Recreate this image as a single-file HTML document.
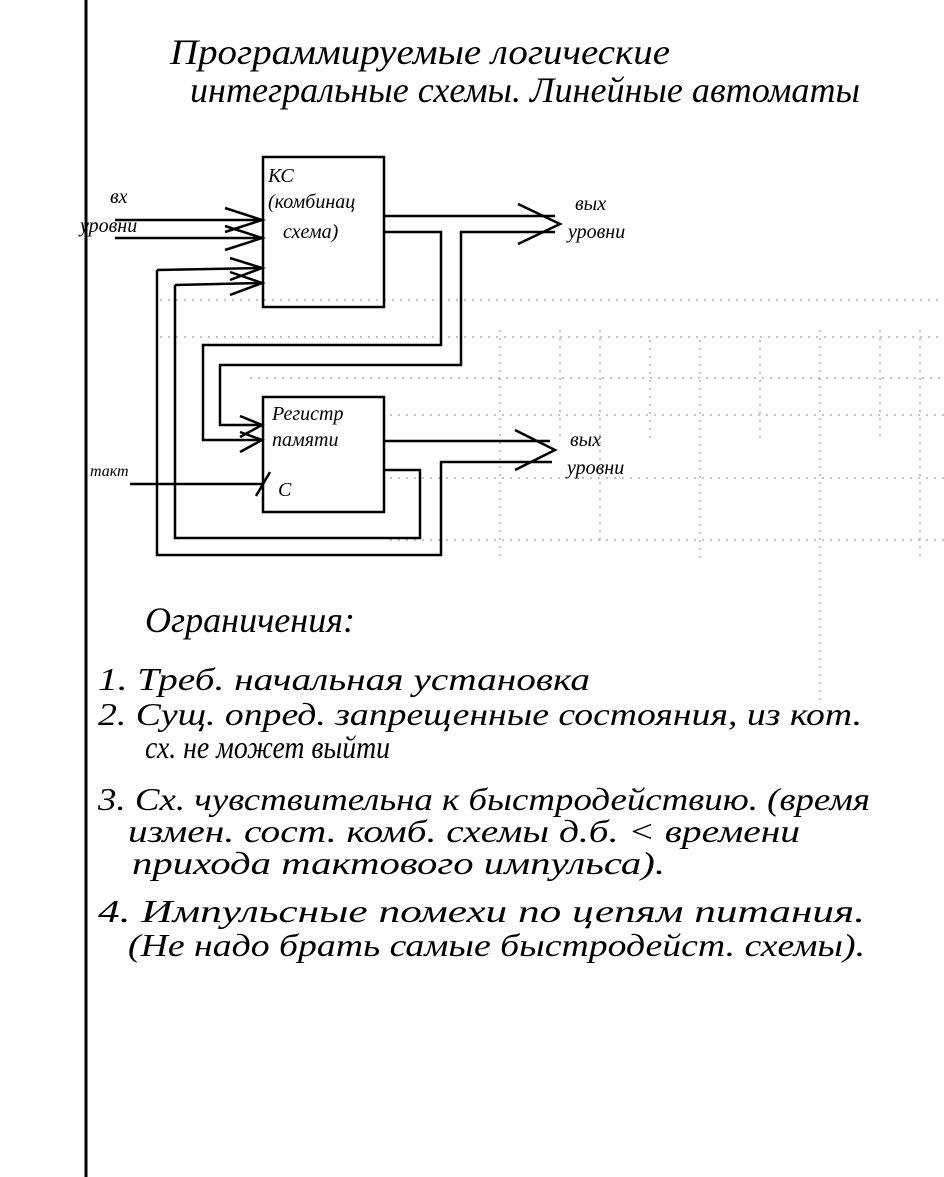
<!DOCTYPE html>
<html><head><meta charset="utf-8">
<style>
html,body{margin:0;padding:0;background:#fff;}
svg{display:block}
text{font-family:"Liberation Serif","DejaVu Serif",serif;font-style:italic;fill:#000}
</style></head>
<body>
<svg width="944" height="1177" viewBox="0 0 944 1177" xmlns="http://www.w3.org/2000/svg">
<rect width="944" height="1177" fill="#fff"/>
<line x1="86" y1="0" x2="86" y2="1177" stroke="#000" stroke-width="3"/>
<g stroke="#888" stroke-width="1" stroke-dasharray="2,6" fill="none">
<line x1="160" y1="300" x2="944" y2="300"/>
<line x1="160" y1="337" x2="944" y2="337"/>
<line x1="250" y1="378" x2="944" y2="378"/>
<line x1="390" y1="415" x2="944" y2="415"/>
<line x1="390" y1="478" x2="944" y2="478"/>
<line x1="390" y1="540" x2="944" y2="540"/>
<line x1="500" y1="330" x2="500" y2="560"/>
<line x1="560" y1="330" x2="560" y2="440"/>
<line x1="600" y1="330" x2="600" y2="540"/>
<line x1="650" y1="340" x2="650" y2="440"/>
<line x1="700" y1="340" x2="700" y2="560"/>
<line x1="760" y1="340" x2="760" y2="440"/>
<line x1="820" y1="330" x2="820" y2="700"/>
<line x1="880" y1="330" x2="880" y2="440"/>
<line x1="920" y1="330" x2="920" y2="560"/>
</g>
<text x="170" y="64" font-size="36" textLength="500" lengthAdjust="spacingAndGlyphs">Программируемые логические</text>
<text x="190" y="102" font-size="36" textLength="670" lengthAdjust="spacingAndGlyphs">интегральные схемы. Линейные автоматы</text>

<g stroke="#000" stroke-width="2.5" fill="none">
<rect x="263" y="157" width="121" height="150"/>
<rect x="263" y="397" width="121" height="115"/>
<line x1="115" y1="220" x2="262" y2="220"/><polyline points="225,208 262,220 225,232"/>
<line x1="115" y1="238" x2="262" y2="238"/><polyline points="225,226 262,238 225,250"/>
<line x1="384" y1="216" x2="555" y2="216"/>
<polyline points="384,232 441,232 441,345 203,345 203,440 262,440"/>
<polyline points="555,232 461,232 461,365 220,365 220,425 262,425"/>
<polyline points="518,204 560,224 518,244"/>
<polyline points="175,285 175,538 420,538 420,470 384,470"/>
<polyline points="157,270 157,555 441,555 441,462 552,462"/>
<line x1="157" y1="270" x2="260" y2="268"/>
<line x1="175" y1="285" x2="260" y2="283"/>
<polyline points="230,258 262,268 230,280"/>
<polyline points="230,272 262,283 230,295"/>
<polyline points="240,416 262,425 240,437"/>
<polyline points="240,432 262,440 240,452"/>
<line x1="384" y1="441" x2="550" y2="441"/>
<polyline points="515,430 555,450 515,470"/>
<line x1="130" y1="484" x2="263" y2="484"/>
<line x1="256" y1="496" x2="270" y2="472"/>
</g>

<g font-size="20">
<text x="110" y="203">вх</text>
<text x="80" y="232">уровни</text>
<text x="268" y="182">КС</text>
<text x="268" y="208">(комбинац</text>
<text x="283" y="238">схема)</text>
<text x="575" y="210">вых</text>
<text x="568" y="238">уровни</text>
<text x="272" y="420">Регистр</text>
<text x="272" y="446">памяти</text>
<text x="90" y="476" font-size="16">такт</text>
<text x="278" y="496">C</text>
<text x="570" y="446">вых</text>
<text x="567" y="474">уровни</text>
</g>

<g font-size="32">
<text x="145" y="632" font-size="36" textLength="210" lengthAdjust="spacingAndGlyphs">Ограничения:</text>
<text x="98" y="690" textLength="492" lengthAdjust="spacingAndGlyphs">1.  Треб. начальная установка</text>
<text x="98" y="725" textLength="764" lengthAdjust="spacingAndGlyphs">2.  Сущ. опред. запрещенные состояния, из кот.</text>
<text x="145" y="758" textLength="245" lengthAdjust="spacingAndGlyphs">сх. не может выйти</text>
<text x="98" y="810" textLength="772" lengthAdjust="spacingAndGlyphs">3.  Сх. чувствительна к быстродействию. (время</text>
<text x="128" y="842" textLength="672" lengthAdjust="spacingAndGlyphs">измен. сост. комб. схемы д.б. &lt; времени</text>
<text x="132" y="874" textLength="533" lengthAdjust="spacingAndGlyphs">прихода тактового импульса).</text>
<text x="98" y="922" textLength="767" lengthAdjust="spacingAndGlyphs">4.  Импульсные помехи по цепям питания.</text>
<text x="128" y="956" textLength="737" lengthAdjust="spacingAndGlyphs">(Не надо брать самые быстродейст. схемы).</text>
</g>
</svg>
</body></html>
